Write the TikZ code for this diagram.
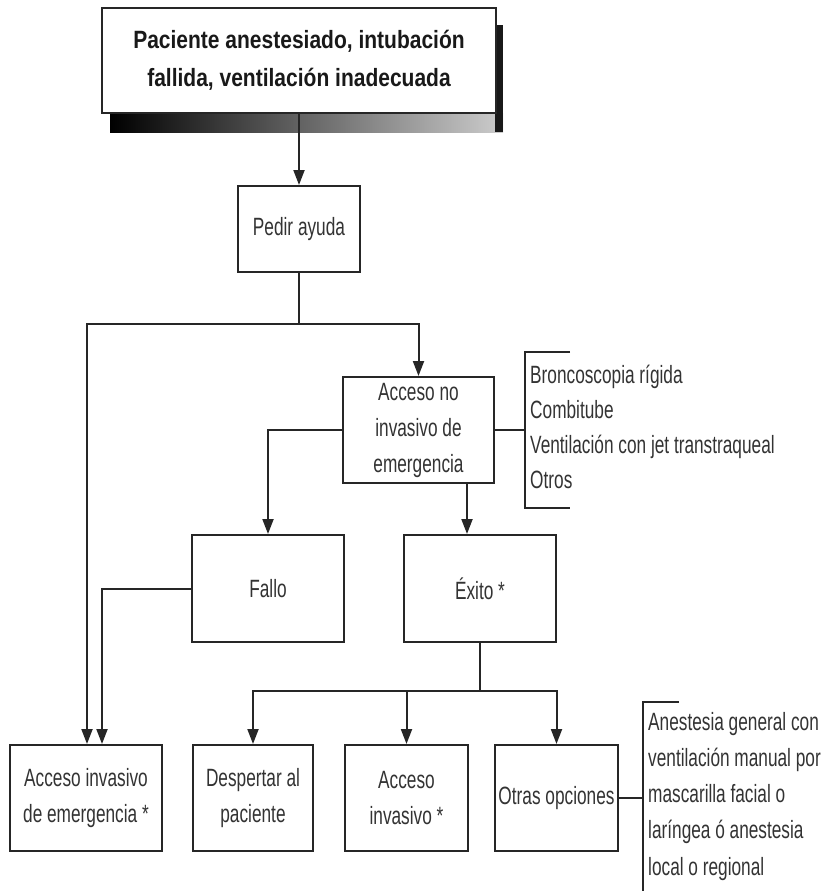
\documentclass[tikz,border=0pt]{standalone}
\usepackage{fontspec}
\setmainfont{Liberation Sans}[FakeStretch=0.69]
\newfontfamily\titlefont{Liberation Sans}[FakeStretch=0.84]
\usetikzlibrary{arrows.meta}
\tikzset{
  box/.style={draw=black!85, fill=white, line width=2pt, inner sep=2pt, align=center,
    text=black!80, font=\fontsize{25}{36}\selectfont},
  ln/.style={draw=black!85, line width=2pt},
  arr/.style={ln, -{Triangle[length=15pt,width=11pt]}},
  listtxt/.style={anchor=base west, inner sep=0pt, text=black!80, font=\fontsize{25}{36}\selectfont}
}
\begin{document}
\begin{tikzpicture}[x=1pt,y=-1pt]
\useasboundingbox (0,0) rectangle (825,891);
% shadow of the title box
\shade[left color=black, right color=black!20] (110,113) rectangle (503,132);
\fill[black!90] (495,25) rectangle (503,132);
\node[box, minimum width=394, minimum height=105, font=\titlefont\bfseries\fontsize{25}{38}\selectfont, text=black!90]
  (top) at (299,60.5) {Paciente anestesiado, intubación\\fallida, ventilación inadecuada};
\node[box, minimum width=122, minimum height=86] (pedir) at (299,229) {Pedir ayuda};
\node[box, minimum width=151, minimum height=106] (ani) at (418.5,430) {Acceso no\\invasivo de\\emergencia};
\node[box, minimum width=152, minimum height=107] (fallo) at (268,588.5) {Fallo};
\node[box, minimum width=152, minimum height=107] (exito) at (480,588.5) {Éxito *};
\node[box, minimum width=152, minimum height=106] (aie) at (86,798) {Acceso invasivo\\de emergencia *};
\node[box, minimum width=120, minimum height=106] (desp) at (253,798) {Despertar al\\paciente};
\node[box, minimum width=123, minimum height=106] (acinv) at (406.5,798) {Acceso\\invasivo *};
\node[box, minimum width=123, minimum height=106] (otras) at (556.5,798) {Otras opciones};
% connectors
\coordinate (j1) at (299,324);
\coordinate (j2) at (480,691);
\draw[arr] (top) -- (pedir);
\draw[ln] (pedir) -- (j1);
\draw[arr] (j1) -| (ani.north);
\draw[arr] (j1) -| ([xshift=1]aie.north);
\draw[arr] (ani.west) -| (fallo.north);
\draw[arr] ([xshift=48.5]ani.south) -- ([xshift=-13]exito.north);
\draw[arr] (fallo.west) -| ([xshift=16]aie.north);
\draw[ln] (exito) -- (j2);
\draw[arr] (j2) -| (desp.north);
\draw[arr] (j2) -| (acinv.north);
\draw[arr] (j2) -| (otras.north);
% bracket for non-invasive access options
\coordinate (b1) at (525,430);
\draw[ln] (ani.east) -- (b1);
\draw[ln] (570,352) -- (525,352) -- (525,508) -- (570,508);
\node[listtxt] (l1) at (530,383) {Broncoscopia rígida};
\node[listtxt] (l2) at (530,418) {Combitube};
\node[listtxt] (l3) at (530,453) {Ventilación con jet transtraqueal};
\node[listtxt] (l4) at (530,488) {Otros};
% bracket for other options
\coordinate (b2) at (643,798);
\draw[ln] (otras.east) -- (b2);
\draw[ln] (679,702) -- (643,702) -- (643,891);
\node[listtxt] (m1) at (648,730) {Anestesia general con};
\node[listtxt] (m2) at (648,766) {ventilación manual por};
\node[listtxt] (m3) at (648,802) {mascarilla facial o};
\node[listtxt] (m4) at (648,838) {laríngea ó anestesia};
\node[listtxt] (m5) at (648,875) {local o regional};
\end{tikzpicture}
\end{document}
